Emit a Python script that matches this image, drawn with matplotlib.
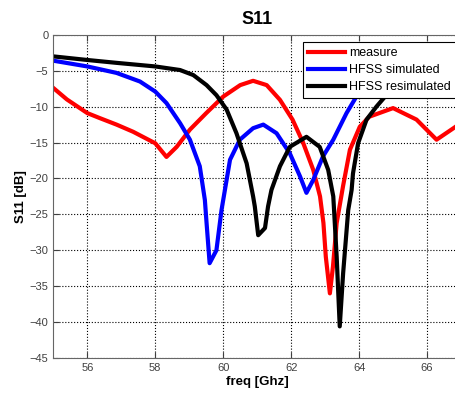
import matplotlib.pyplot as plt

plt.rcParams['font.family'] = ['Liberation Sans', 'DejaVu Sans']

# measure
f_meas = [55.0, 55.4, 56.0, 56.37, 56.86, 57.35, 58.0, 58.33, 58.63, 59.02, 59.5, 60.0,
          60.5, 60.88, 61.28, 61.67, 62.04, 62.35, 62.65, 62.85, 62.95, 63.02, 63.14,
          63.23, 63.34, 63.53, 63.73, 64.02, 64.3, 65.0, 65.69, 66.28, 66.84, 67.0]
s_meas = [-7.4, -9.0, -10.9, -11.6, -12.5, -13.5, -15.1, -17.0, -15.6, -13.2, -10.9, -8.6,
          -7.0, -6.4, -7.0, -9.05, -11.8, -15.0, -18.8, -22.5, -26.2, -30.9, -36.0,
          -32.3, -26.2, -21.0, -16.0, -12.8, -11.4, -10.2, -11.8, -14.6, -12.8, -12.2]

# HFSS simulated
f_sim = [55.0, 56.0, 56.86, 57.55, 58.0, 58.33, 58.73, 59.02, 59.31, 59.46, 59.51, 59.6,
         59.8, 59.95, 60.05, 60.2, 60.49, 60.88, 61.18, 61.57, 61.96, 62.26, 62.45, 62.65,
         62.94, 63.24, 63.63, 63.92, 64.5, 65.0, 66.0, 67.0]
s_sim = [-3.6, -4.4, -5.3, -6.5, -7.9, -9.5, -12.3, -14.6, -18.3, -23.0, -26.2, -31.8,
         -30.0, -24.4, -21.6, -17.4, -14.6, -13.0, -12.5, -13.7, -16.5, -19.7, -22.0, -20.2,
         -16.9, -14.6, -10.9, -8.6, -6.5, -5.5, -4.6, -4.0]

# HFSS resimulated
f_resim = [55.0, 56.0, 56.86, 58.0, 58.73, 59.12, 59.51, 59.8, 60.1, 60.39, 60.69, 60.88,
           60.93, 61.03, 61.23, 61.32, 61.42, 61.67, 61.96, 62.45, 62.84, 63.09, 63.24,
           63.34, 63.43, 63.53, 63.68, 63.78, 63.82, 63.97, 64.22, 64.51, 64.8, 65.2,
           66.0, 67.0]
s_resim = [-3.0, -3.5, -3.9, -4.4, -4.9, -5.6, -7.0, -8.4, -10.4, -13.7, -17.9, -22.5,
           -23.9, -27.9, -26.9, -23.9, -21.6, -18.3, -15.6, -14.2, -15.6, -18.8, -22.5,
           -30.9, -40.6, -33.2, -24.4, -21.6, -19.3, -15.1, -11.8, -10.0, -8.4, -7.0,
           -5.5, -4.5]

fig = plt.figure(figsize=(4.56, 3.96), dpi=100)
ax = fig.add_axes([0.117, 0.096, 0.894, 0.816])

ax.plot(f_meas, s_meas, color='#ff0000', lw=3, label='measure')
ax.plot(f_sim, s_sim, color='#0000ff', lw=3, label='HFSS simulated')
ax.plot(f_resim, s_resim, color='black', lw=3, label='HFSS resimulated')

ax.set_xlim(55, 67)
ax.set_ylim(-45, 0)
ax.set_xticks([56, 58, 60, 62, 64, 66])
ax.set_yticks(range(-45, 1, 5))
ax.tick_params(direction='in', labelsize=8, colors='0.25', length=4, top=True, right=True)
ax.grid(True, linestyle=':', color='black', lw=0.8)
for sp in ax.spines.values():
    sp.set_color('0.4')

ax.set_title('S11', fontsize=13, fontweight='bold', pad=8)
ax.set_xlabel('freq [Ghz]', fontsize=9.5, fontweight='bold', labelpad=2)
ax.set_ylabel('S11 [dB]', fontsize=9.5, fontweight='bold', labelpad=2)

leg = fig.legend(loc='upper left', bbox_to_anchor=(0.664, 0.894), fontsize=9,
                 fancybox=False, edgecolor='black', framealpha=1, handlelength=3.0,
                 handletextpad=0.3, borderpad=0.4, labelspacing=0.42, borderaxespad=0)
leg.get_frame().set_linewidth(0.8)

plt.savefig('out.png', dpi=100)
